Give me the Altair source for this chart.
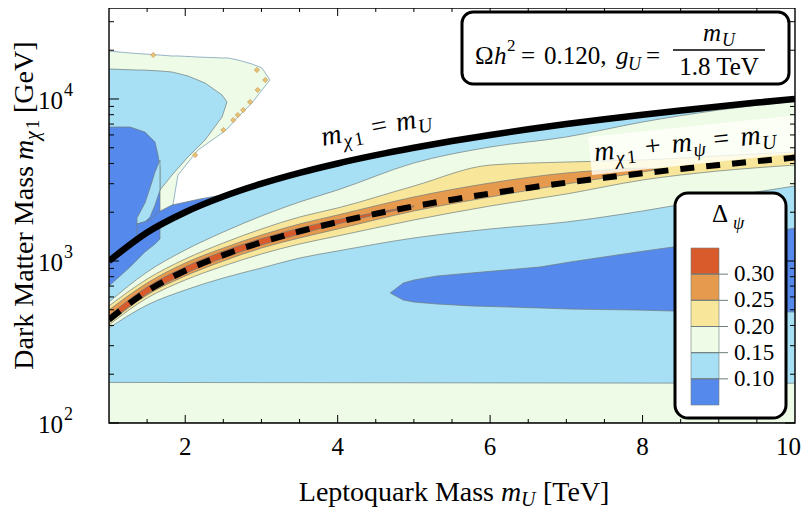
import altair as alt
import pandas as pd

FONT = "Liberation Serif"
W, H = 686, 415

C_DB, C_LB, C_LG, C_Y, C_O, C_R = "#5689EC", "#A7DFF5", "#EEFBE6", "#F8E69B", "#E69A4E", "#D95B2C"
EDGE = "#6E7D7D"

# ---------------- data (TeV on x, GeV on y) ----------------
LINE_X = [1.0, 1.5, 2.0, 2.5, 3.0, 3.5, 4.0, 4.5, 5.0, 5.5, 6.0, 6.5, 7.0, 7.5, 8.0, 8.5, 9.0, 9.5, 10.0]
M_CHI_EQ_MU = [1000, 1500, 2000, 2500, 3000, 3500, 4000, 4500, 5000, 5500, 6000, 6500, 7000,
               7500, 8000, 8500, 9000, 9500, 10000]
M_CHI_PSI_EQ_MU = [435, 652, 870, 1087, 1304, 1522, 1739, 1957, 2174, 2391, 2609, 2826, 3043,
                   3261, 3478, 3696, 3913, 4130, 4348]

BOT_X = [1.0, 10.0]
BOT_HI = [178, 176]

BAND_X = [1.0, 1.5, 2.0, 2.5, 3.0, 3.5, 4.0, 5.0, 6.0, 7.0, 8.0, 9.0, 10.0]
LG_LO = [386, 535, 662, 786, 905, 1043, 1153, 1387, 1576, 1741, 2035, 2448, 2904]
LG_HI = [558, 855, 1169, 1510, 1896, 2313, 2744, 4027, 5053, 5830, 7211, 8545, 9720]
YE_LO = [403, 591, 763, 931, 1105, 1273, 1427, 1791, 2185, 2592, 3162, 3594, 3910]
YE_HI = [528, 774, 1029, 1292, 1576, 1869, 2125, 2904, 3910, 4083, 4200, 4450, 4710]

OR_X = [1.0, 1.5, 2.0, 2.5, 3.0, 3.5, 4.0, 5.0, 6.0, 7.0, 7.5, 8.0, 8.2]
OR_LO = [414, 617, 808, 1000, 1203, 1387, 1576, 2035, 2484, 2987, 3253, 3543, 3670]
OR_HI = [498, 731, 972, 1203, 1447, 1692, 1923, 2484, 3030, 3494, 3645, 3750, 3670]

RED_X = [1.0, 1.5, 2.0, 2.5, 3.0, 3.5, 4.0, 4.5, 5.0]
RED_LO = [418, 626, 836, 1045, 1255, 1465, 1690, 1930, 2165]
RED_HI = [461, 691, 920, 1150, 1375, 1595, 1800, 1990, 2190]

BR_X = [4.69, 4.86, 5.0, 5.3, 5.75, 6.65, 7.05, 7.93, 8.4, 10.0]
BR_LO = [635, 574, 558, 543, 528, 513, 505, 498, 491, 484]
BR_HI = [635, 731, 763, 808, 843, 918, 986, 1136, 1220, 1598]

TLG_X = [1.0, 1.276, 1.643, 1.827, 1.905, 2.168, 2.483, 2.561, 2.692, 2.876, 3.007, 3.112]
TLG_HI = [19770, 19230, 18700, 18430, 18430, 18160, 17920, 17920, 17410, 16440, 15540, 13100]
TLG_LO = [1000, 1276, 2000, 2065, 3397, 4840, 6160, 6620, 7740, 9445, 11370, 13100]

TLB_X = [1.0, 1.367, 1.446, 1.669, 1.827, 2.036, 2.26, 2.483, 2.548]
TLB_HI = [15310, 15100, 15100, 14890, 14680, 13870, 12550, 10590, 9583]
TLB_LO = [1692, 1692, 1742, 2743, 3397, 4385, 5580, 7740, 9583]

TDB_X = [1.0, 1.276, 1.472, 1.604, 1.643, 1.669]
TDB_HI = [6715, 6715, 6250, 5430, 4510, 3750]
TDB_LO = [701, 918, 1137, 1274, 1329, 1368]

TLS_X = [1.367, 1.472, 1.538, 1.604, 1.669]
TLS_HI = [1843, 2280, 2823, 3540, 4203]
TLS_LO = [1692, 1742, 1869, 2216, 2743]

TDS_X = [1.367, 1.538, 1.643, 1.827, 2.194, 2.627]
TDS_HI = [1692, 1791, 2000, 2216, 2415, 2627]
TDS_LO = [1367, 1538, 1643, 1827, 2194, 2627]

# small Δψ > 0.20 specks on the island edge
SPOT_X = [1.58, 2.13, 2.50, 2.63, 2.69, 2.76, 2.85, 2.95, 3.05, 2.94]
SPOT_Y = [18700, 4510, 6433, 7413, 7960, 8545, 9583, 11370, 13100, 15100]

X_MAJOR = [2, 4, 6, 8]
X_MINOR = [1.5, 2.5, 3, 3.5, 4.5, 5, 5.5, 6.5, 7, 7.5, 8.5, 9, 9.5]
X_LABELS = [2, 4, 6, 8]
X_LAST = [10]
Y_MAJOR = [100, 1000, 10000]
Y_EXP = ["2", "3", "4"]
Y_MINOR = [200, 300, 400, 500, 600, 700, 800, 900, 2000, 3000, 4000, 5000, 6000, 7000,
           8000, 9000, 20000, 30000]

LEGEND_COLORS = [C_R, C_O, C_Y, C_LG, C_LB, C_DB]
LEGEND_LABELS = ["0.30", "0.25", "0.20", "0.15", "0.10"]

# ---------------- helpers ----------------
XS = alt.Scale(domain=[1, 10], nice=False, zero=False)
YS = alt.Scale(type="log", domain=[100, 36450], nice=False)
ONE = pd.DataFrame({"k": [0]})


def area(xs, lo, hi, color, interp="monotone", stroke=EDGE, sw=0.7):
    df = pd.DataFrame({"x": xs, "lo": lo, "hi": hi})
    return alt.Chart(df).mark_area(fill=color, stroke=stroke, strokeWidth=sw, interpolate=interp,
                                   clip=True, fillOpacity=1).encode(
        x=alt.X("x:Q", scale=XS, axis=None),
        y=alt.Y("lo:Q", scale=YS, axis=None),
        y2="hi:Q")


def txt(s, x, y, size=24, italic=False, align="left", angle=0, dx=0, dy=0,
        baseline="alphabetic"):
    kw = dict(text=s, font=FONT, fontSize=size, align=align, baseline=baseline,
              color="black", dx=dx, dy=dy)
    if italic:
        kw["fontStyle"] = "italic"
    if angle:
        kw["angle"] = angle
    return alt.Chart(ONE).mark_text(**kw).encode(x=alt.value(x), y=alt.value(y))


layers = []
layers.append(area(LINE_X, [100] * len(LINE_X), M_CHI_EQ_MU, C_LB, stroke=None, sw=0))
layers.append(area(BOT_X, [100, 100], BOT_HI, C_LG))
layers.append(area(BR_X, BR_LO, BR_HI, C_DB, interp="linear"))
layers.append(area(BAND_X, LG_LO, LG_HI, C_LG))
layers.append(area(BAND_X, YE_LO, YE_HI, C_Y))
layers.append(area(OR_X, OR_LO, OR_HI, C_O))
layers.append(area(RED_X, RED_LO, RED_HI, C_R))
layers.append(area(TLG_X, TLG_LO, TLG_HI, C_LG, interp="linear", stroke="#6f95b5"))
layers.append(area(TLB_X, TLB_LO, TLB_HI, C_LB, interp="linear"))
layers.append(area(TDB_X, TDB_LO, TDB_HI, C_DB, interp="linear"))
layers.append(area(TLS_X, TLS_LO, TLS_HI, C_LB, interp="linear"))
layers.append(area(TDS_X, TDS_LO, TDS_HI, C_DB, interp="linear"))
layers.append(alt.Chart(pd.DataFrame({"x": SPOT_X, "y": SPOT_Y})).mark_point(
    shape="diamond", filled=True, size=28, color="#E8C274", stroke="#B88A4A", strokeWidth=0.5,
    opacity=1, clip=True).encode(
    x=alt.X("x:Q", scale=XS, axis=None), y=alt.Y("y:Q", scale=YS, axis=None)))

lines = pd.DataFrame({"x": LINE_X, "solid": M_CHI_EQ_MU, "dash": M_CHI_PSI_EQ_MU})
layers.append(alt.Chart(lines).mark_line(color="black", strokeWidth=6.5, clip=True,
                                         interpolate="monotone").encode(
    x=alt.X("x:Q", scale=XS, axis=None), y=alt.Y("solid:Q", scale=YS, axis=None)))
layers.append(alt.Chart(lines).mark_line(color="black", strokeWidth=6, clip=True,
                                         strokeDash=[14, 12], strokeCap="butt",
                                         interpolate="monotone").encode(
    x=alt.X("x:Q", scale=XS, axis=None), y=alt.Y("dash:Q", scale=YS, axis=None)))

layers.append(alt.Chart(ONE).mark_rule(color="#FFFFF8", opacity=0.82, strokeWidth=38,
                                       clip=True, strokeCap="butt").encode(
    x=alt.value(481), y=alt.value(148), x2=alt.value(700), y2=alt.value(125)))

a1, ax1, ay1 = 349, 214, 138
for s, dx, dy, size, it in [("m", 0, 0, 28, True), ("χ", 21, 6, 20, True), ("1", 32, 6, 19, False),
                            ("=", 51, 0, 28, False), ("m", 76, 0, 28, True), ("U", 97, 6, 20, True)]:
    layers.append(txt(s, ax1, ay1, size=size, italic=it, angle=a1, dx=dx, dy=dy))

a2, ax2, ay2 = 354, 486, 153
for s, dx, dy, size, it in [("m", 0, 0, 28, True), ("χ", 21, 6, 20, True), ("1", 32, 6, 19, False),
                            ("+", 51, 0, 28, False), ("m", 78, 0, 28, True), ("ψ", 99, 6, 20, True),
                            ("=", 120, 0, 28, False), ("m", 147, 0, 28, True), ("U", 168, 6, 20, True)]:
    layers.append(txt(s, ax2, ay2, size=size, italic=it, angle=a2, dx=dx, dy=dy))


def xticks(vals, ln):
    df = pd.DataFrame({"v": vals})
    b = alt.Chart(df).mark_rule(color="black", strokeWidth=1).encode(
        x=alt.X("v:Q", scale=XS, axis=None), y=alt.value(H), y2=alt.value(H - ln))
    t = alt.Chart(df).mark_rule(color="black", strokeWidth=1).encode(
        x=alt.X("v:Q", scale=XS, axis=None), y=alt.value(0), y2=alt.value(ln))
    return [b, t]


def yticks(vals, ln):
    df = pd.DataFrame({"v": vals})
    l = alt.Chart(df).mark_rule(color="black", strokeWidth=1).encode(
        y=alt.Y("v:Q", scale=YS, axis=None), x=alt.value(0), x2=alt.value(ln))
    r = alt.Chart(df).mark_rule(color="black", strokeWidth=1).encode(
        y=alt.Y("v:Q", scale=YS, axis=None), x=alt.value(W), x2=alt.value(W - ln))
    return [l, r]


layers += xticks(X_MAJOR, 8) + xticks(X_MINOR, 4) + yticks(Y_MAJOR, 10) + yticks(Y_MINOR, 5)

layers.append(alt.Chart(ONE).mark_rect(filled=False, stroke="black", strokeWidth=1.4).encode(
    x=alt.value(0), x2=alt.value(W), y=alt.value(0), y2=alt.value(H)))

layers.append(alt.Chart(pd.DataFrame({"v": X_LABELS, "t": [str(v) for v in X_LABELS]})).mark_text(
    font=FONT, fontSize=25, baseline="middle", align="center").encode(
    x=alt.X("v:Q", scale=XS, axis=None), y=alt.value(439), text="t:N"))
layers.append(alt.Chart(pd.DataFrame({"v": X_LAST, "t": [str(v) for v in X_LAST]})).mark_text(
    font=FONT, fontSize=25, baseline="middle", align="right", dx=6).encode(
    x=alt.X("v:Q", scale=XS, axis=None), y=alt.value(439), text="t:N"))
ydf = pd.DataFrame({"v": Y_MAJOR, "e": Y_EXP})
layers.append(alt.Chart(ydf).mark_text(font=FONT, fontSize=25, baseline="middle", align="right",
                                       dy=2, text="10").encode(
    y=alt.Y("v:Q", scale=YS, axis=None), x=alt.value(-46)))
layers.append(alt.Chart(ydf).mark_text(font=FONT, fontSize=18, baseline="middle", align="left",
                                       dy=-8).encode(
    y=alt.Y("v:Q", scale=YS, axis=None), x=alt.value(-45), text="e:N"))

layers.append(txt("Leptoquark Mass", 385, 493, size=28, align="right"))
layers.append(txt("m", 392, 493, size=28, italic=True))
layers.append(txt("U", 412, 498, size=20, italic=True))
layers.append(txt("[TeV]", 434, 493, size=28))

layers.append(txt("Dark Matter Mass", -76, 152, size=28, align="right", angle=270, dx=-6))
layers.append(txt("m", -76, 152, size=28, italic=True, angle=270, dx=0))
layers.append(txt("χ", -76, 152, size=20, italic=True, angle=270, dx=20, dy=6))
layers.append(txt("1", -76, 152, size=19, angle=270, dx=31, dy=6))
layers.append(txt("[GeV]", -76, 152, size=28, angle=270, dx=47))

layers.append(alt.Chart(ONE).mark_rect(fill="white", stroke="black", strokeWidth=3,
                                       cornerRadius=11).encode(
    x=alt.value(353), x2=alt.value(680), y=alt.value(4), y2=alt.value(76)))
for s, x, y, size, it in [("Ω", 366, 56, 25, False), ("h", 385, 56, 25, True), ("2", 398, 43, 17, False),
                          ("=", 412, 56, 25, False), ("0.120,", 435, 56, 25, False),
                          ("g", 507, 56, 25, True), ("U", 519, 62, 18, True), ("=", 537, 56, 25, False),
                          ("m", 594, 33, 25, True), ("U", 613, 38, 18, True)]:
    layers.append(txt(s, x, y, size=size, italic=it))
layers.append(alt.Chart(ONE).mark_rule(color="black", strokeWidth=1.3).encode(
    x=alt.value(564), x2=alt.value(656), y=alt.value(42)))
layers.append(txt("1.8 TeV", 610, 67, size=25, align="center"))

layers.append(alt.Chart(ONE).mark_rect(fill="white", stroke="black", strokeWidth=3,
                                       cornerRadius=13).encode(
    x=alt.value(566), x2=alt.value(677), y=alt.value(185), y2=alt.value(410)))
layers.append(txt("Δ", 603, 214, size=25))
layers.append(txt("ψ", 624, 221, size=18, italic=True))
BH = 26.17
for i, c in enumerate(LEGEND_COLORS):
    layers.append(alt.Chart(ONE).mark_rect(fill=c, stroke=EDGE, strokeWidth=0.6).encode(
        x=alt.value(582), x2=alt.value(610), y=alt.value(240 + i * BH), y2=alt.value(240 + (i + 1) * BH)))
for i, lab in enumerate(LEGEND_LABELS):
    yb = 240 + (i + 1) * BH
    layers.append(alt.Chart(ONE).mark_rule(color=EDGE, strokeWidth=1).encode(
        x=alt.value(582), x2=alt.value(619), y=alt.value(yb)))
    layers.append(txt(lab, 625, yb, size=23, baseline="middle"))

chart = alt.layer(*layers).properties(
    width=W, height=H,
    padding={"left": 101, "top": 0, "right": 7, "bottom": 88},
    autosize=alt.AutoSizeParams(type="none"),
).configure_view(strokeWidth=0)

chart.save("out.html", embed_options={"renderer": "svg", "actions": False})
